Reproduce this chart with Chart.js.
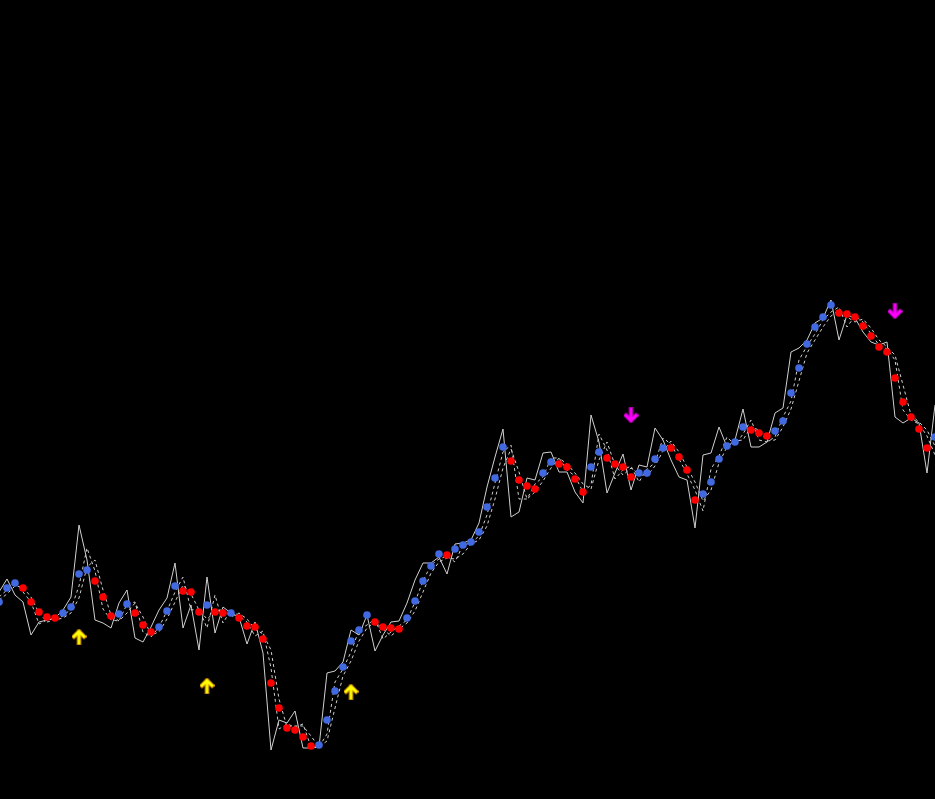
<!DOCTYPE html>
<html>
<head>
<meta charset="utf-8">
<script src="https://cdn.jsdelivr.net/npm/chart.js@4/dist/chart.umd.min.js"></script>
<style>
  html, body { margin: 0; padding: 0; background: #000; }
  #wrap { width: 935px; height: 799px; background: #000; }
  canvas { display: block; background: #000; }
</style>
</head>
<body>
<div id="wrap"><canvas id="c" width="935" height="799"></canvas></div>
<script>
// Bar index 0..117 (one value per bar)
const priceLine = [208,221,205,198,165,178,180,182,190,203,275,240,180,177,172,197,210,162,158,173,190,202,237,172,195,150,223,167,193,187,183,156,178,147,50,80,77,89,52,52,53,127,129,138,170,165,185,149,165,178,179,197,220,237,237,243,226,256,257,260,277,313,343,371,283,288,322,320,347,348,328,328,308,297,385,358,307,327,346,310,335,333,372,360,340,323,320,272,345,347,373,353,360,391,353,353,358,387,392,448,452,460,477,482,500,460,485,482,468,458,455,458,383,377,382,377,327,395];

const fastSignal = [203,210,219,208,198,176,180,181,184,191,214,252,229,191,180,179,196,198,168,163,173,189,208,223,190,191,172,205,177,190,184,178,164,169,132,71,76,73,76,53,53,66,118,131,148,170,175,181,161,168,174,180,198,219,235,241,244,238,255,257,264,285,317,348,355,301,301,316,323,342,342,330,324,308,315,366,350,321,330,334,318,331,337,362,356,341,326,310,289,331,344,363,355,366,380,360,358,363,383,399,440,454,466,480,488,493,473,484,478,466,455,451,440,390,380,376,364,345];

const slowSignal = [200,206,214,213,203,187,178,180,182,187,202,233,240,210,185,179,187,197,183,165,168,181,198,215,206,190,181,188,191,183,187,181,171,166,150,101,73,74,74,64,53,59,92,124,139,159,172,178,171,164,171,177,189,208,227,238,242,241,246,256,260,274,301,332,351,328,301,308,319,332,342,336,327,316,311,340,358,335,325,332,326,324,334,349,359,348,333,318,299,310,337,353,359,360,373,370,359,360,373,391,419,447,460,473,484,490,483,478,481,472,460,453,445,415,385,378,370,354];

const trendDots = [198,212,217,212,198,188,183,182,187,193,226,230,219,203,184,186,196,187,175,168,173,189,214,209,208,188,195,188,187,187,182,174,173,161,117,92,72,70,63,54,55,80,109,133,159,170,185,178,173,172,171,182,199,219,234,246,245,251,255,258,268,293,322,353,339,320,314,311,327,338,336,333,321,308,333,348,342,336,333,323,327,327,341,352,352,343,330,300,306,318,341,354,358,373,370,367,364,369,379,407,432,456,473,483,495,487,486,483,474,464,453,448,422,398,383,371,352,363];

// 1 = up (blue), -1 = down (red)
const trendDir = [1,1,1,-1,-1,-1,-1,-1,1,1,1,1,-1,-1,-1,1,1,-1,-1,-1,1,1,1,-1,-1,-1,1,-1,-1,1,-1,-1,-1,-1,-1,-1,-1,-1,-1,-1,1,1,1,1,1,1,1,-1,-1,-1,-1,1,1,1,1,1,-1,1,1,1,1,1,1,1,-1,-1,-1,-1,1,1,-1,-1,-1,-1,1,1,-1,-1,-1,-1,1,1,1,1,-1,-1,-1,-1,1,1,1,1,1,1,-1,-1,-1,1,1,1,1,1,1,1,1,-1,-1,-1,-1,-1,-1,-1,-1,-1,-1,-1,-1,1];

// signal arrows: bar index and level
const buyBars = [10, 26, 44];
const buyLevels = [163, 114, 108];
const sellBars = [79, 112];
const sellLevels = [385, 489];

function makeArrow(up, fill, edge) {
  const c = document.createElement('canvas');
  c.width = 15; c.height = 16;
  const g = c.getContext('2d');
  g.lineCap = 'square';
  g.lineJoin = 'miter';
  function path() {
    g.beginPath();
    if (up) {
      g.moveTo(2.5, 7.5); g.lineTo(7.5, 2.5); g.lineTo(12.5, 7.5);
      g.moveTo(7.5, 3); g.lineTo(7.5, 14);
    } else {
      g.moveTo(2.5, 8.5); g.lineTo(7.5, 13.5); g.lineTo(12.5, 8.5);
      g.moveTo(7.5, 13); g.lineTo(7.5, 2);
    }
  }
  g.strokeStyle = edge; g.lineWidth = 4.5; path(); g.stroke();
  g.strokeStyle = fill; g.lineWidth = 2.5; path(); g.stroke();
  return c;
}
const upArrow = makeArrow(true, '#ffff00', '#c08000');
const downArrow = makeArrow(false, '#ff00ff', '#a000a0');

const idx = priceLine.map((_, i) => i);
const toXY = arr => arr.map((v, i) => ({ x: idx[i], y: v }));

new Chart(document.getElementById('c'), {
  type: 'line',
  data: {
    datasets: [
      {
        data: toXY(priceLine),
        borderColor: '#d0d0d0', borderWidth: 1, pointRadius: 0, fill: false, tension: 0, order: 5
      },
      {
        data: toXY(fastSignal),
        borderColor: '#d0d0d0', borderWidth: 1, borderDash: [3, 3], pointRadius: 0, fill: false, tension: 0, order: 4
      },
      {
        data: toXY(slowSignal),
        borderColor: '#d0d0d0', borderWidth: 1, borderDash: [3, 3], pointRadius: 0, fill: false, tension: 0, order: 3
      },
      {
        data: toXY(trendDots),
        showLine: false,
        pointRadius: 3.8, pointBorderWidth: 0,
        pointBackgroundColor: trendDir.map(d => d > 0 ? '#4169e1' : '#ff0000'),
        pointBorderColor: 'rgba(0,0,0,0)',
        clip: false, order: 2
      },
      {
        data: buyBars.map((b, i) => ({ x: b, y: buyLevels[i] })),
        showLine: false, pointStyle: upArrow, pointRadius: 8, clip: false, order: 1
      },
      {
        data: sellBars.map((b, i) => ({ x: b, y: sellLevels[i] })),
        showLine: false, pointStyle: downArrow, pointRadius: 8, clip: false, order: 1
      }
    ]
  },
  options: {
    responsive: false,
    animation: false,
    events: [],
    layout: { padding: 0, autoPadding: false },
    plugins: { legend: { display: false }, tooltip: { enabled: false } },
    scales: {
      x: { type: 'linear', min: 0.125, max: 117, display: false },
      y: { type: 'linear', min: 1, max: 800, display: false }
    }
  }
});
</script>
</body>
</html>
